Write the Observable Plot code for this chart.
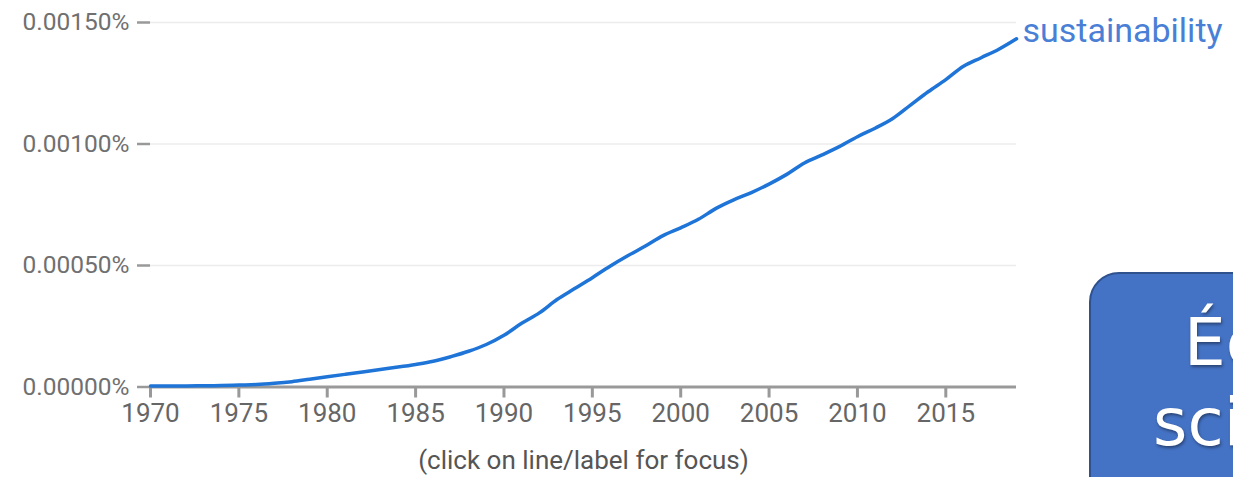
<!DOCTYPE html>
<html><head><meta charset="utf-8">
<script src="https://cdn.jsdelivr.net/npm/d3@7"></script>
<script src="https://cdn.jsdelivr.net/npm/@observablehq/plot@0.6"></script>
<style>
body{margin:0;background:#fff;overflow:hidden}
#wrap{position:relative;width:1233px;height:477px;overflow:hidden;background:#fff}
.box{position:absolute;left:1089px;top:272px;width:320px;height:260px;box-sizing:border-box;background:#4472c4;border:2px solid #2f528f;border-radius:30px}
.bt{position:absolute;color:#fff;font-family:"DejaVu Sans",sans-serif;font-size:66px;line-height:1;white-space:nowrap;text-shadow:1px 2px 3px rgba(0,0,0,0.4)}
</style>
</head><body><div id="wrap"></div>
<script>
const years = [1970,1971,1972,1973,1974,1975,1976,1977,1978,1979,1980,1981,1982,1983,1984,1985,1986,1987,1988,1989,1990,1991,1992,1993,1994,1995,1996,1997,1998,1999,2000,2001,2002,2003,2004,2005,2006,2007,2008,2009,2010,2011,2012,2013,2014,2015,2016,2017,2018,2019];
const sustainability = [0.000004,0.000004,0.000004,0.000005,0.000006,0.000008,0.000010,0.000015,0.000022,0.000032,0.000042,0.000052,0.000062,0.000072,0.000082,0.000093,0.000106,0.000125,0.000147,0.000175,0.000213,0.000262,0.000305,0.000360,0.000405,0.000450,0.000497,0.000540,0.000580,0.000623,0.000655,0.000690,0.000735,0.000770,0.000800,0.000835,0.000875,0.000922,0.000955,0.000990,0.001030,0.001065,0.001105,0.001160,0.001215,0.001265,0.001320,0.001355,0.001390,0.001433];
const yTicks = [0, 0.0005, 0.001, 0.0015];
const xTicks = [1970,1975,1980,1985,1990,1995,2000,2005,2010,2015];
const seriesName = "sustainability";
const caption = "(click on line/label for focus)";
const boxLines = ["Écologie", "scientifique"];

const data = years.map((y,i)=>({year:y, value:sustainability[i]}));
const last = data[data.length-1];
const fmt = d => d3.format(".5f")(d) + "%";

const chart = Plot.plot({
  width: 1233, height: 477,
  marginLeft: 150, marginRight: 217, marginTop: 22, marginBottom: 90.5,
  style: {fontFamily: "Roboto, sans-serif", background: "#fff", overflow: "visible"},
  x: {domain: [1970, 2019], label: null},
  y: {domain: [0, 0.0015], label: null},
  marks: [
    Plot.gridY(yTicks.filter(d=>d>0), {stroke: "#ececec", strokeOpacity: 1, strokeWidth: 1.5}),
    Plot.axisY(yTicks, {tickFormat: fmt, tickSize: 13, tickPadding: 8, stroke: "#999", strokeWidth: 2.5, fill: "#707070", fontSize: 24.5, label: null}),
    Plot.ruleY([0], {stroke: "#999", strokeWidth: 3}),
    Plot.axisX(xTicks, {tickFormat: d => String(d), tickSize: 11, tickPadding: 6, stroke: "#999", strokeWidth: 3, fill: "#666", fontSize: 26, label: null}),
    Plot.line(data, {x: "year", y: "value", stroke: "#1f74d8", strokeWidth: 3.5, curve: "catmull-rom"}),
    Plot.text([last], {x: "year", y: "value", text: () => seriesName, textAnchor: "start", dx: 6, dy: -8, fill: "#4a7fd6", fontSize: 34}),
    Plot.text([caption], {frameAnchor: "bottom", dy: 82, fill: "#555", fontSize: 26})
  ]
});
const wrap = document.getElementById("wrap");
wrap.appendChild(chart);
const box = document.createElement("div"); box.className = "box"; wrap.appendChild(box);
const t1 = document.createElement("div"); t1.className = "bt"; t1.textContent = boxLines[0];
t1.style.left = "1184px"; t1.style.top = "310px"; wrap.appendChild(t1);
const t2 = document.createElement("div"); t2.className = "bt"; t2.textContent = boxLines[1];
t2.style.left = "1153px"; t2.style.top = "390px"; wrap.appendChild(t2);
</script>
</body></html>
